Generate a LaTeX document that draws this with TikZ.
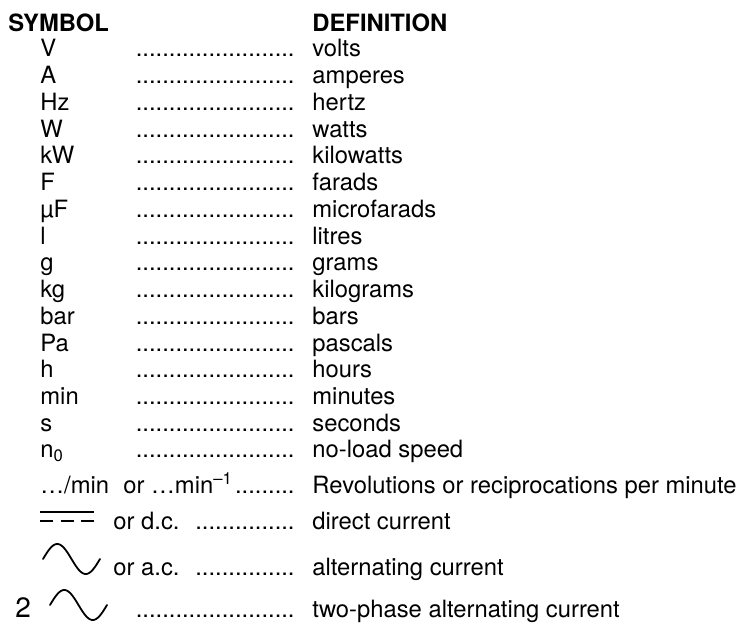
\documentclass[tikz,border=0pt]{standalone}
\usepackage{fontspec}
\setmainfont{TeX Gyre Heros}
\usepackage{tikz}
\usetikzlibrary{math}

\begin{document}
\begin{tikzpicture}[x=0.5pt, y=-0.5pt]
    \tikzset{%
        txt/.style={inner sep=0pt, anchor=base west, font=\fontsize{11.9}{14}\selectfont},
        head/.style={txt, font=\fontsize{11.9}{14}\selectfont\bfseries},
        leader/.style={txt, anchor=base east},
        dcline/.style={line width=1.4pt},
        pics/acwave/.style={code={%
                        % one period, baseline at the pic origin
                        \draw [line width=0.9pt, line cap=round] plot [domain=0:360, samples=60, smooth] ({\x/360*57}, {-15-15*sin(\x)});
                    }
            }
    }
    \useasboundingbox (0, 0) rectangle (743, 625);

    \tikzmath{%
        \rowtop=57;
        \rowgap=26.73;
        \symx=40;
        \dotx=295;
        \defx=312;
    };

    % headings
    \node [head] (symhead) at (8, 32) {SYMBOL};
    \node [head] (defhead) at (\defx, 32) {DEFINITION};

    % unit rows
    \foreach \unitsym/\unitdef [count=\i from 0] in {V/volts, A/amperes, Hz/hertz, W/watts, kW/kilowatts, F/farads, µF/microfarads, l/litres, g/grams, kg/kilograms, bar/bars, Pa/pascals, h/hours, min/minutes, s/seconds, n\textsubscript{0}/no-load speed} {%
            \node [txt] (sym-\i) at (\symx, \rowtop+\i*\rowgap) {\unitsym};
            \node [leader] (dots-\i) at (\dotx, \rowtop+\i*\rowgap) {........................};
            \node [txt] (def-\i) at (\defx, \rowtop+\i*\rowgap) {\unitdef};
        };

    % per minute
    \node [txt] (rpm-a) at (\symx, 493) {…/min};
    \node [txt] (rpm-b) at (123, 493) {or …min\textsuperscript{–1}};
    \node [leader] (rpm-dots) at (\dotx, 493) {.........};
    \node [txt] (rpm-def) at (\defx, 493) {Revolutions or reciprocations per minute};

    % direct current
    \draw [dcline] (40, 512) -- (94, 512);
    \foreach \xa in {40, 60.5, 81} {%
            \draw [dcline] (\xa, 521) -- ++(13, 0);
        };
    \node [txt] (dc-or) at (113, 529) {or d.c.};
    \node [leader] (dc-dots) at (\dotx, 529) {...............};
    \node [txt] (dc-def) at (\defx, 529) {direct current};

    % alternating current
    \pic at (43, 574) {acwave};
    \node [txt] (ac-or) at (113, 575) {or a.c.};
    \node [leader] (ac-dots) at (\dotx, 575) {...............};
    \node [txt] (ac-def) at (\defx, 575) {alternating current};

    % two-phase
    \node [txt, font=\fontsize{14}{16}\selectfont] (two) at (15, 617) {2};
    \pic at (50, 620) {acwave};
    \node [leader] (two-dots) at (\dotx, 617) {........................};
    \node [txt] (two-def) at (\defx, 617) {two-phase alternating current};

\end{tikzpicture}
\end{document}
